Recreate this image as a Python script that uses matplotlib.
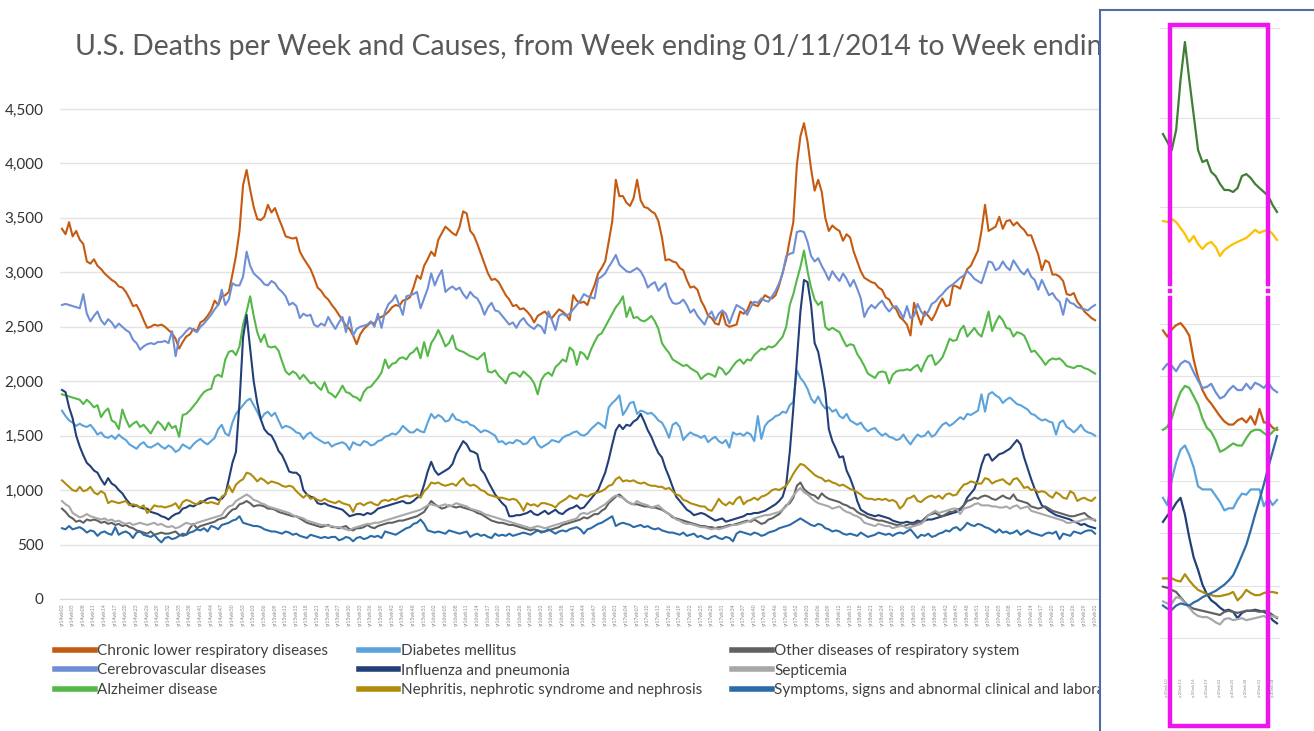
import matplotlib.pyplot as plt
import matplotlib.patches as mpatches
from matplotlib.lines import Line2D
import numpy as np

# ---------------------------------------------------------------
# weekly deaths per cause, yr14wk02 .. yr19wk32 (292 weeks)
# ---------------------------------------------------------------
chronic = [
    3400, 3350, 3460, 3330, 3380, 3300, 3260, 3100, 3080, 3120,
    3060, 3030, 2990, 2960, 2930, 2910, 2870, 2860, 2820, 2760,
    2690, 2700, 2640, 2560, 2490, 2500, 2520, 2510, 2520, 2500,
    2470, 2440, 2390, 2300, 2360, 2410, 2430, 2480, 2460, 2540,
    2560, 2600, 2650, 2740, 2700, 2780, 2790, 2820, 2980, 3150,
    3380, 3800, 3940, 3760, 3600, 3490, 3480, 3510, 3620, 3550,
    3590, 3500, 3420, 3330, 3320, 3310, 3320, 3190, 3130, 3080,
    3030, 2950, 2860, 2830, 2780, 2750, 2700, 2660, 2610, 2560,
    2510, 2480, 2420, 2340, 2430, 2480, 2510, 2540, 2530, 2580,
    2590, 2610, 2640, 2680, 2700, 2690, 2740, 2750, 2770, 2860,
    2970, 2940, 3060, 3120, 3190, 3150, 3300, 3360, 3420, 3390,
    3360, 3340, 3420, 3560, 3540, 3380, 3340, 3260, 3170, 3080,
    2990, 2930, 2940, 2910, 2850, 2790, 2750, 2690, 2700, 2660,
    2670, 2640, 2600, 2540, 2600, 2620, 2640, 2600, 2580, 2620,
    2660, 2640, 2610, 2560, 2790, 2740, 2720, 2730, 2700, 2800,
    2880, 2990, 3040, 3100, 3280, 3470, 3850, 3700, 3700, 3640,
    3610, 3680, 3850, 3660, 3600, 3590, 3560, 3540, 3470, 3320,
    3110, 3120, 3100, 3090, 3040, 3020, 2930, 2860, 2870, 2840,
    2740, 2680, 2600, 2580, 2530, 2520, 2640, 2520, 2500, 2510,
    2520, 2640, 2620, 2650, 2730, 2700, 2690, 2740, 2790, 2770,
    2760, 2790, 2880, 3000, 3120, 3300, 3460, 3990, 4250, 4370,
    4200, 3950, 3750, 3850, 3740, 3500, 3380, 3430, 3400, 3380,
    3290, 3350, 3320, 3190, 3100, 3010, 2950, 2930, 2910, 2900,
    2860, 2840, 2770, 2750, 2690, 2660, 2590, 2560, 2520, 2420,
    2720, 2610, 2520, 2640, 2600, 2560, 2620, 2700, 2760, 2690,
    2700, 2880, 2870, 2850, 2950, 3030, 3060, 3130, 3200, 3380,
    3620, 3380, 3400, 3420, 3510, 3400, 3470, 3480, 3430, 3460,
    3420, 3390, 3340, 3340, 3250, 3160, 3020, 3110, 3090, 2980,
    2980, 2960, 2920, 2800, 2790, 2810, 2730, 2690, 2640, 2610,
    2580, 2560,
]
cerebro = [
    2700, 2710, 2700, 2690, 2680, 2670, 2800, 2620, 2550, 2600,
    2640, 2560, 2520, 2570, 2540, 2490, 2530, 2500, 2470, 2450,
    2380, 2350, 2290, 2320, 2340, 2350, 2340, 2360, 2360, 2370,
    2350, 2460, 2230, 2390, 2420, 2460, 2490, 2470, 2450, 2500,
    2530, 2570, 2610, 2660, 2700, 2840, 2700, 2750, 2900, 2880,
    2880, 2960, 3190, 3060, 2990, 2960, 2930, 2890, 2880, 2920,
    2900, 2850, 2820, 2780, 2700, 2720, 2690, 2580, 2620, 2600,
    2610, 2520, 2500, 2530, 2510, 2590, 2530, 2480, 2540, 2590,
    2450, 2590, 2420, 2480, 2500, 2510, 2520, 2550, 2500, 2620,
    2490, 2640, 2710, 2740, 2790, 2700, 2610, 2780, 2790, 2800,
    2820, 2670, 2760, 2850, 2990, 2880, 2960, 3020, 2820, 2850,
    2870, 2840, 2860, 2800, 2760, 2820, 2780, 2760, 2700, 2610,
    2680, 2720, 2650, 2640, 2600, 2560, 2520, 2540, 2490, 2550,
    2580, 2530, 2500, 2480, 2520, 2500, 2440, 2640, 2560, 2470,
    2600, 2620, 2600, 2620, 2660, 2700, 2740, 2800, 2780, 2770,
    2760, 2940, 2960, 2990, 3050, 3100, 3160, 3070, 3040, 3010,
    3000, 3020, 3040, 3010, 2950, 2860, 2890, 2910, 2830, 2870,
    2900, 2780, 2720, 2710, 2720, 2750, 2700, 2630, 2660, 2600,
    2560, 2520, 2600, 2640, 2560, 2620, 2650, 2620, 2530, 2620,
    2700, 2680, 2660, 2610, 2680, 2730, 2720, 2760, 2740, 2730,
    2780, 2830, 2900, 2990, 3150, 3170, 3180, 3370, 3380, 3370,
    3280, 3150, 3100, 3130, 3060, 3000, 2930, 3010, 2960, 2920,
    2990, 2940, 2870, 2930, 2850, 2760, 2590, 2660, 2700, 2670,
    2710, 2740, 2680, 2640, 2680, 2690, 2640, 2580, 2690, 2580,
    2600, 2710, 2640, 2600, 2640, 2710, 2730, 2770, 2800, 2840,
    2870, 2890, 2920, 2950, 2970, 3010, 2980, 2940, 2920, 2900,
    3000, 3100, 3090, 3020, 3040, 3100, 3050, 3020, 3110, 3060,
    3010, 2980, 3030, 2960, 2930, 2840, 2930, 2860, 2790, 2810,
    2760, 2730, 2610, 2760, 2720, 2710, 2680, 2670, 2660, 2650,
    2680, 2700,
]
alzheimer = [
    1880, 1870, 1860, 1850, 1840, 1830, 1790, 1830, 1800, 1760,
    1780, 1670, 1720, 1750, 1640, 1620, 1560, 1740, 1650, 1580,
    1610, 1630, 1580, 1600, 1560, 1520, 1580, 1630, 1600, 1550,
    1620, 1570, 1590, 1490, 1690, 1700, 1730, 1770, 1810, 1860,
    1900, 1920, 1930, 2040, 2060, 2040, 2200, 2270, 2280, 2240,
    2320, 2520, 2640, 2780, 2600, 2450, 2360, 2430, 2320, 2310,
    2320, 2280, 2180, 2090, 2060, 2090, 2070, 2020, 2060, 2020,
    1980, 1990, 1950, 1920, 1990, 1900, 1880, 1850, 1900, 1960,
    1900, 1890, 1860, 1850, 1820, 1900, 1940, 1950, 1990, 2030,
    2080, 2200, 2120, 2160, 2170, 2210, 2220, 2200, 2250, 2270,
    2310, 2210, 2360, 2230, 2350, 2400, 2470, 2400, 2320, 2350,
    2420, 2300, 2280, 2270, 2250, 2230, 2220, 2200, 2230, 2260,
    2090, 2080, 2100, 2050, 2020, 1980, 2060, 2080, 2070, 2040,
    2090, 2060, 2030, 1980, 1880, 2010, 2060, 2080, 2050, 2130,
    2160, 2200, 2180, 2310, 2280, 2150, 2270, 2250, 2200, 2290,
    2360, 2420, 2440, 2500, 2560, 2620, 2680, 2720, 2780, 2590,
    2680, 2580, 2590, 2560, 2550, 2570, 2600, 2550, 2480, 2350,
    2300, 2260, 2200, 2180, 2160, 2140, 2150, 2120, 2100, 2080,
    2020, 2050, 2070, 2060, 2040, 2130, 2110, 2060, 2090, 2140,
    2180, 2200, 2160, 2200, 2190, 2240, 2270, 2300, 2290, 2320,
    2310, 2330, 2370, 2410, 2500, 2700, 2800, 2930, 3050, 3200,
    3010, 2860, 2750, 2700, 2730, 2500, 2470, 2490, 2470, 2450,
    2380, 2320, 2340, 2330, 2250, 2200, 2140, 2070, 2050, 2030,
    2080, 2090, 2080, 1980, 2060, 2090, 2100, 2100, 2110, 2100,
    2130, 2150, 2090, 2170, 2230, 2240, 2150, 2180, 2220, 2300,
    2390, 2370, 2380, 2470, 2510, 2410, 2450, 2490, 2440, 2410,
    2520, 2640, 2460, 2540, 2600, 2560, 2490, 2480, 2410, 2450,
    2440, 2420, 2350, 2270, 2280, 2240, 2200, 2150, 2190, 2210,
    2200, 2210, 2180, 2140, 2130, 2120, 2140, 2140, 2120, 2110,
    2090, 2070,
]
diabetes = [
    1730, 1680, 1640, 1620, 1590, 1610, 1590, 1580, 1600, 1560,
    1510, 1530, 1490, 1480, 1500, 1470, 1510, 1480, 1460, 1420,
    1400, 1380, 1420, 1440, 1400, 1390, 1410, 1430, 1400, 1380,
    1410, 1390, 1350, 1370, 1420, 1400, 1380, 1420, 1450, 1470,
    1440, 1420, 1450, 1480, 1560, 1600, 1520, 1500, 1620, 1700,
    1740, 1780, 1820, 1840, 1780, 1720, 1650, 1700, 1720, 1680,
    1710, 1640, 1570, 1590, 1580, 1560, 1530, 1520, 1470, 1510,
    1530, 1490, 1470, 1450, 1430, 1440, 1400, 1420, 1430, 1440,
    1420, 1370, 1440, 1420, 1410, 1450, 1440, 1410, 1420, 1450,
    1460, 1490, 1500, 1520, 1510, 1540, 1590, 1560, 1530, 1530,
    1560, 1540, 1530, 1620, 1700, 1660, 1690, 1670, 1630, 1640,
    1700, 1650, 1640, 1620, 1630, 1600, 1590, 1560, 1530, 1550,
    1540, 1520, 1500, 1440, 1450, 1420, 1440, 1430, 1460, 1450,
    1420, 1430, 1470, 1490, 1420, 1390, 1410, 1430, 1460, 1450,
    1440, 1480, 1500, 1510, 1530, 1540, 1510, 1500, 1520, 1560,
    1590, 1620, 1600, 1570, 1760, 1800, 1830, 1870, 1690, 1740,
    1800, 1810, 1700, 1730, 1720, 1700, 1710, 1680, 1640, 1620,
    1560, 1480, 1600, 1620, 1580, 1460, 1500, 1530, 1510, 1500,
    1480, 1500, 1440, 1470, 1490, 1450, 1430, 1460, 1390, 1530,
    1510, 1520, 1500, 1530, 1510, 1450, 1680, 1470, 1590, 1630,
    1650, 1680, 1690, 1720, 1710, 1780, 1810, 2100, 2030, 1990,
    1930, 1840, 1800, 1860, 1790, 1750, 1760, 1720, 1740, 1680,
    1660, 1700, 1640, 1620, 1600, 1620, 1570, 1540, 1560, 1570,
    1530, 1500, 1520, 1490, 1480, 1460, 1470, 1510, 1460, 1420,
    1470, 1510, 1490, 1500, 1540, 1490, 1510, 1560, 1600, 1620,
    1590, 1610, 1640, 1670, 1650, 1700, 1690, 1710, 1730, 1880,
    1720, 1880, 1900, 1870, 1850, 1800, 1830, 1850, 1820, 1790,
    1780, 1760, 1740, 1700, 1690, 1660, 1640, 1650, 1630, 1620,
    1510, 1620, 1640, 1580, 1560, 1530, 1560, 1600, 1550, 1530,
    1520, 1500,
]
influenza = [
    1920, 1900, 1760, 1660, 1500, 1400, 1320, 1250, 1220, 1180,
    1160, 1100, 1050, 1110, 1060, 1040, 1000, 970, 920, 880,
    850, 860, 840, 830, 830, 800, 790, 780, 760, 750,
    730, 760, 780, 790, 830, 840, 860, 850, 870, 880,
    900, 920, 930, 930, 910, 920, 960, 1100, 1250, 1350,
    1800, 2400, 2610, 2300, 2000, 1800, 1650, 1560, 1520, 1500,
    1440, 1360, 1320, 1250, 1170, 1160, 1160, 1130, 1000, 960,
    940, 930, 880, 870, 880, 860, 850, 840, 830, 820,
    790, 760, 770, 780, 780, 770, 790, 780, 800, 830,
    840, 850, 860, 870, 880, 890, 900, 880, 880, 900,
    930, 950, 1050, 1170, 1260, 1180, 1140, 1160, 1180, 1200,
    1240, 1330, 1390, 1450, 1420, 1360, 1350, 1330, 1190, 1150,
    1080, 1020, 960, 920, 880, 850, 760, 760, 770, 770,
    780, 790, 810, 780, 770, 790, 810, 780, 800, 820,
    790, 780, 810, 830, 840, 860, 830, 840, 880, 920,
    960, 1000, 1080, 1160, 1280, 1420, 1550, 1600, 1560, 1600,
    1590, 1630, 1650, 1700, 1630, 1550, 1490, 1410, 1340, 1300,
    1200, 1120, 1030, 940, 900, 860, 820, 800, 770, 780,
    790, 780, 760, 740, 720, 730, 740, 710, 720, 730,
    740, 750, 760, 780, 780, 790, 790, 800, 810, 830,
    850, 870, 900, 940, 1050, 1350, 1750, 2200, 2640, 2930,
    2910, 2700, 2350, 2270, 2100, 1900, 1560, 1450, 1380, 1300,
    1310, 1180, 1110, 1020, 900, 820, 800, 780, 770, 760,
    770, 760, 750, 740, 720, 710, 700, 700, 710, 700,
    700, 720, 710, 720, 730, 730, 740, 750, 760, 770,
    780, 790, 800, 820, 860, 930, 970, 1010, 1100, 1230,
    1320, 1330, 1270, 1300, 1330, 1340, 1360, 1380, 1420, 1460,
    1420, 1300, 1200, 1100, 1010, 930, 860, 840, 810, 790,
    770, 760, 750, 740, 730, 710, 700, 680, 690, 670,
    660, 650,
]
nephritis = [
    1090, 1060, 1030, 1000, 990, 1030, 990, 1000, 1030, 980,
    960, 990, 970, 880, 900, 890, 880, 890, 900, 860,
    870, 860, 840, 860, 790, 820, 860, 850, 850, 840,
    850, 860, 880, 830, 890, 910, 900, 880, 870, 900,
    890, 880, 890, 880, 870, 940, 960, 1040, 980, 1050,
    1080, 1100, 1160, 1150, 1120, 1080, 1110, 1090, 1060, 1080,
    1070, 1060, 1040, 1030, 1040, 1030, 990, 960, 930, 960,
    920, 930, 910, 900, 920, 900, 890, 880, 900, 880,
    870, 860, 800, 870, 880, 860, 880, 890, 870, 860,
    900, 910, 900, 920, 910, 930, 940, 950, 940, 950,
    960, 930, 990, 1020, 1070, 1060, 1070, 1050, 1040, 1050,
    1060, 1040, 1080, 1110, 1060, 1040, 1050, 1030, 1000, 990,
    960, 950, 940, 930, 930, 920, 910, 920, 910, 870,
    810, 880, 860, 870, 850, 880, 880, 870, 860, 840,
    880, 900, 920, 950, 930, 920, 960, 950, 940, 960,
    970, 980, 990, 1010, 1040, 1050, 1100, 1120, 1080, 1090,
    1080, 1090, 1070, 1060, 1070, 1050, 1040, 1040, 1030, 1030,
    1010, 1020, 990, 960, 950, 910, 900, 880, 870, 860,
    850, 850, 820, 810, 860, 920, 880, 860, 890, 870,
    920, 940, 870, 900, 910, 930, 910, 940, 950, 970,
    1000, 1010, 1000, 1020, 1040, 1090, 1150, 1200, 1240, 1230,
    1200, 1170, 1140, 1120, 1110, 1080, 1090, 1070, 1060, 1040,
    1050, 1030, 1010, 1000, 980, 960, 930, 920, 920, 910,
    920, 910, 920, 900, 910, 890, 830, 860, 920, 930,
    950, 900, 890, 920, 940, 950, 930, 950, 920, 960,
    970, 950, 960, 1010, 1050, 1060, 1080, 1070, 1060, 1060,
    1110, 1100, 1060, 1080, 1090, 1100, 1070, 1050, 1100, 1110,
    1070, 1020, 1030, 1000, 1010, 980, 990, 980, 950, 930,
    980, 960, 930, 920, 990, 970, 900, 920, 930, 910,
    900, 930,
]
other_resp = [
    830, 800, 760, 740, 710, 720, 700, 730, 720, 730,
    720, 700, 710, 690, 700, 680, 690, 670, 680, 660,
    650, 630, 620, 610, 600, 620, 590, 600, 610, 600,
    600, 610, 620, 590, 580, 590, 650, 690, 650, 670,
    680, 690, 700, 710, 730, 740, 750, 790, 820, 830,
    870, 880, 900, 880, 850, 860, 860, 850, 830, 830,
    820, 800, 790, 780, 770, 760, 760, 740, 720, 700,
    690, 680, 670, 660, 670, 680, 660, 660, 650, 660,
    670, 640, 630, 650, 650, 660, 680, 660, 650, 670,
    680, 690, 700, 700, 710, 720, 720, 730, 740, 750,
    760, 780, 800, 850, 900, 870, 850, 830, 840, 860,
    850, 840, 850, 840, 830, 820, 810, 790, 780, 760,
    740, 720, 710, 700, 700, 690, 680, 680, 670, 660,
    650, 640, 630, 640, 630, 620, 620, 630, 640, 650,
    660, 680, 690, 700, 710, 720, 730, 750, 740, 760,
    780, 780, 810, 830, 880, 910, 940, 960, 930, 900,
    880, 870, 870, 860, 850, 850, 840, 840, 830, 820,
    800, 780, 750, 740, 730, 720, 710, 700, 690, 680,
    670, 670, 660, 660, 650, 660, 660, 670, 680, 680,
    690, 700, 710, 720, 710, 730, 710, 690, 700, 730,
    740, 760, 780, 820, 860, 880, 930, 1040, 1070, 1010,
    980, 960, 950, 920, 970, 940, 920, 910, 900, 890,
    870, 860, 840, 830, 800, 780, 770, 750, 740, 730,
    720, 720, 710, 700, 690, 680, 680, 670, 680, 690,
    680, 700, 710, 740, 770, 780, 790, 770, 760, 780,
    800, 800, 820, 830, 860, 900, 910, 930, 920, 940,
    950, 940, 920, 910, 930, 950, 930, 920, 960, 910,
    900, 890, 880, 850, 840, 830, 840, 850, 830, 810,
    800, 790, 780, 770, 760, 760, 770, 780, 790, 760,
    740, 720,
]
septicemia = [
    900, 870, 850, 790, 770, 750, 760, 780, 760, 750,
    740, 730, 740, 720, 730, 710, 720, 700, 690, 700,
    680, 690, 700, 690, 680, 690, 700, 680, 690, 670,
    660, 670, 650, 660, 680, 700, 690, 680, 700, 710,
    720, 730, 740, 750, 760, 770, 820, 850, 860, 900,
    920, 940, 960, 940, 910, 900, 880, 870, 850, 840,
    830, 820, 810, 800, 790, 770, 760, 750, 740, 720,
    710, 700, 690, 680, 680, 670, 670, 660, 660, 650,
    640, 630, 650, 660, 670, 680, 690, 690, 700, 700,
    710, 720, 730, 740, 750, 760, 770, 780, 790, 800,
    810, 820, 840, 860, 870, 860, 850, 860, 870, 850,
    860, 880, 870, 860, 850, 830, 820, 810, 800, 780,
    770, 760, 750, 740, 730, 720, 710, 700, 690, 680,
    670, 660, 650, 660, 670, 660, 650, 660, 670, 680,
    690, 700, 710, 720, 730, 740, 780, 790, 780, 800,
    810, 830, 850, 870, 900, 930, 950, 940, 930, 900,
    880, 870, 900, 880, 870, 860, 840, 850, 860, 830,
    800, 780, 760, 730, 720, 700, 690, 690, 680, 670,
    660, 660, 650, 640, 650, 640, 650, 660, 670, 680,
    680, 690, 700, 710, 720, 740, 750, 760, 770, 770,
    780, 790, 800, 820, 850, 900, 950, 990, 1020, 980,
    960, 930, 900, 880, 870, 860, 850, 830, 840, 850,
    820, 800, 790, 770, 760, 740, 700, 690, 680, 670,
    690, 680, 670, 670, 650, 660, 670, 670, 650, 660,
    670, 680, 690, 720, 770, 790, 810, 790, 800, 810,
    820, 830, 830, 780, 830, 840, 850, 870, 880, 860,
    860, 860, 850, 850, 840, 840, 850, 830, 850, 860,
    830, 840, 850, 810, 800, 790, 780, 770, 760, 750,
    740, 730, 720, 700, 700, 710, 710, 720, 730, 740,
    730, 730,
]
symptoms = [
    650, 640, 670, 640, 650, 660, 640, 610, 630, 620,
    580, 610, 620, 600, 590, 660, 590, 610, 620, 600,
    560, 610, 620, 590, 580, 570, 590, 550, 520, 560,
    570, 550, 560, 580, 600, 590, 610, 620, 640, 630,
    650, 620, 670, 660, 640, 680, 690, 700, 720, 730,
    760, 700, 690, 680, 670, 670, 660, 640, 630, 620,
    620, 610, 600, 620, 610, 590, 600, 580, 570, 560,
    590, 580, 570, 560, 570, 560, 570, 570, 540, 550,
    570, 560, 530, 560, 570, 550, 560, 580, 570, 580,
    560, 620, 610, 600, 590, 610, 630, 650, 660, 690,
    700, 730, 690, 630, 620, 610, 620, 610, 600, 630,
    620, 610, 600, 610, 620, 570, 590, 600, 580, 590,
    570, 560, 600, 580, 590, 580, 600, 580, 590, 600,
    610, 600, 590, 610, 630, 610, 620, 640, 620, 600,
    620, 630, 620, 640, 650, 660, 640, 600, 640, 650,
    670, 690, 700, 720, 740, 760, 670, 690, 700, 690,
    680, 660, 670, 680, 660, 670, 650, 640, 650, 630,
    620, 610, 610, 600, 590, 610, 580, 590, 600, 570,
    580, 560, 550, 570, 580, 560, 550, 570, 560, 530,
    600, 620, 610, 600, 590, 610, 600, 580, 590, 610,
    620, 630, 650, 660, 670, 680, 700, 720, 740, 720,
    700, 680, 670, 690, 680, 650, 640, 620, 630, 620,
    600, 590, 600, 590, 580, 610, 590, 570, 580, 590,
    610, 600, 590, 600, 580, 600, 610, 600, 620, 640,
    600, 560, 590, 580, 600, 570, 580, 600, 610, 630,
    620, 650, 660, 630, 660, 700, 680, 670, 690, 680,
    660, 650, 630, 610, 640, 610, 620, 600, 610, 630,
    590, 610, 630, 610, 600, 590, 580, 600, 610, 600,
    620, 550, 600, 590, 580, 620, 610, 600, 620, 630,
    630, 600,
]

# week labels yr14wk02 .. yr19wk32
weeks = []
for yr, w0, w1 in [(14, 2, 53), (15, 1, 52), (16, 1, 52), (17, 1, 52), (18, 1, 52), (19, 1, 32)]:
    for w in range(w0, w1 + 1):
        weeks.append(f"yr{yr}wk{w:02d}")

# ---------------------------------------------------------------
# 2020 snippet on the right (yr20wk09 .. yr20wk35)
# ---------------------------------------------------------------
weeks20 = [f"yr20wk{w:02d}" for w in range(9, 36)]
ins_all = [59080, 58630, 58180, 59300, 62100, 64220, 62100, 60140, 58180, 57510,
           57630, 56960, 56730, 56290, 55950, 55950, 55840, 56060, 56730, 56840,
           56620, 56290, 56060, 55840, 55620, 55110, 54720]
ins_expected = [54220, 54160, 54330, 54160, 53830, 53490, 53050, 53380, 52930, 52650,
                52930, 53050, 52770, 52260, 52600, 52770, 52930, 53050, 53160, 53270,
                53490, 53720, 53550, 53660, 53720, 53490, 53160]
ins_chronic = [2940, 2880, 2950, 2990, 3010, 2960, 2890, 2660, 2490, 2370,
               2290, 2240, 2180, 2120, 2070, 2040, 2040, 2080, 2100, 2060,
               2120, 2040, 2190, 2060, 2060, 2010, 1990]
ins_cerebro = [2570, 2620, 2600, 2550, 2620, 2650, 2630, 2540, 2460, 2390,
               2400, 2430, 2350, 2290, 2310, 2370, 2410, 2370, 2370, 2430,
               2380, 2440, 2420, 2390, 2440, 2380, 2350]
ins_alzheimer = [1990, 2020, 2100, 2240, 2350, 2410, 2390, 2310, 2230, 2100,
                 2010, 1970, 1890, 1780, 1800, 1830, 1860, 1840, 1840, 1910,
                 1970, 1990, 1990, 1960, 1930, 1970, 2010]
ins_diabetes = [1340, 1270, 1510, 1680, 1800, 1840, 1750, 1630, 1450, 1420,
                1420, 1420, 1360, 1300, 1220, 1240, 1240, 1320, 1380, 1370,
                1420, 1420, 1420, 1260, 1340, 1270, 1320]
ins_influenza = [1110, 1170, 1220, 1290, 1340, 1180, 960, 770, 650, 510,
                 420, 360, 330, 290, 260, 270, 250, 190, 240, 260,
                 260, 270, 260, 250, 230, 170, 140]
ins_nephritis = [570, 570, 570, 550, 540, 610, 550, 500, 460, 440,
                 420, 410, 400, 400, 410, 420, 440, 360, 400, 460,
                 430, 410, 410, 430, 440, 440, 430]
ins_other = [490, 480, 460, 440, 390, 340, 300, 280, 270, 260,
             250, 240, 230, 220, 250, 260, 250, 240, 250, 260,
             260, 260, 250, 260, 250, 220, 190]
ins_septicemia = [350, 330, 330, 390, 380, 330, 290, 240, 210, 200,
                  200, 180, 150, 130, 180, 190, 170, 180, 190, 170,
                  180, 190, 200, 210, 190, 210, 200]
ins_symptoms = [310, 280, 270, 310, 330, 320, 310, 340, 360, 390,
                410, 430, 450, 480, 510, 550, 600, 690, 790, 890,
                1030, 1180, 1320, 1470, 1630, 1780, 1930]

# the last legend entry is cut off by the pasted panel in the original
names = [
    "Chronic lower respiratory diseases", "Cerebrovascular diseases", "Alzheimer disease",
    "Diabetes mellitus", "Influenza and pneumonia", "Nephritis, nephrotic syndrome and nephrosis",
    "Other diseases of respiratory system", "Septicemia",
    "Symptoms, signs and abnormal clinical and laboratory",
]
colors = ["#C55A11", "#6E8FD6", "#55B848", "#5BA3DC", "#223F78",
          "#B08C0C", "#616161", "#A8A8A8", "#2B6CA8"]
main_data = [chronic, cerebro, alzheimer, diabetes, influenza,
             nephritis, other_resp, septicemia, symptoms]
ins_data = [ins_chronic, ins_cerebro, ins_alzheimer, ins_diabetes, ins_influenza,
            ins_nephritis, ins_other, ins_septicemia, ins_symptoms]

W, H = 1314, 731


def fx(x):
    return x / W


def fy(y):
    return 1 - y / H


plt.rcParams['font.family'] = ['Lato', 'DejaVu Sans']
fig = plt.figure(figsize=(13.14, 7.31), dpi=100)

# ---------------------------------------------------------------
# main chart
# ---------------------------------------------------------------
ax = fig.add_axes([fx(60), fy(599), (1110 - 60) / W, (599 - 99.2) / H])
x = np.arange(len(chronic))
for name, vals, col in zip(names, main_data, colors):
    ax.plot(x, vals, color=col, lw=1.5, label=name)
ax.set_xlim(-0.56, 295.2)
ax.set_ylim(0, 4590)
yt = list(range(0, 4501, 500))
ax.set_yticks(yt)
ax.set_yticklabels([f"{v:,}" for v in yt], fontsize=11, color="#333333")
ax.set_xticks(x[::3])
ax.set_xticklabels(weeks[::3], rotation=90, fontsize=3.6, color="#8C8C8C")
ax.tick_params(axis="y", length=0, pad=12)
ax.tick_params(axis="x", length=0, pad=3)
ax.grid(axis="y", color="#E3E3E3", lw=1)
ax.set_axisbelow(True)
for s in ["top", "right", "left"]:
    ax.spines[s].set_visible(False)
ax.spines["bottom"].set_color("#D9D9D9")

ax.text(fx(75), fy(47), "U.S. Deaths per Week and Causes, from Week ending 01/11/2014 to Week ending",
        transform=fig.transFigure, fontsize=20.4, color="#595959", va="center", ha="left")

leg = ax.legend(ncol=3, loc="upper left", bbox_to_anchor=(fx(55), fy(644)),
                bbox_transform=fig.transFigure, frameon=False, fontsize=11,
                handlelength=2.6, handletextpad=0.15, columnspacing=2.0,
                labelspacing=0.36, borderpad=0, borderaxespad=0)
for ln in leg.get_lines():
    ln.set_linewidth(4)
for t in leg.get_texts():
    t.set_color("#404040")

# ---------------------------------------------------------------
# pasted 2020 panel on the right
# ---------------------------------------------------------------
pan = fig.add_axes([fx(1100), 0, 0.2, fy(10)], zorder=5)
pan.set_facecolor("white")
pan.set_xticks([])
pan.set_yticks([])
pan.spines["right"].set_visible(False)
pan.spines["bottom"].set_visible(False)
for s in ["left", "top"]:
    pan.spines[s].set_color("#4E6EA8")
    pan.spines[s].set_linewidth(1.5)

k = np.arange(len(ins_all))
tax = fig.add_axes([fx(1160), fy(285), 120 / W, 270 / H], zorder=6)
tax.plot(k, ins_all, color="#3F7F35", lw=1.6)
tax.plot(k, ins_expected, color="#FFC000", lw=1.6)
tax.set_xlim(-0.68, 26.68)
tax.set_ylim(50640, 65730)
tax.set_yticks([55000, 60000, 65000])

bax = fig.add_axes([fx(1160), fy(672), 120 / W, (672 - 298) / H], zorder=6)
for vals, col in zip(ins_data, colors):
    bax.plot(k, vals, color=col, lw=1.6)
bax.set_xlim(-0.68, 26.68)
bax.set_ylim(-325, 3250)
bax.set_yticks(range(0, 3001, 500))
bax.set_xticks(k[1::3])
bax.set_xticklabels(weeks20[1::3], rotation=90, fontsize=3.2, color="#8C8C8C")

for a in (tax, bax):
    a.patch.set_alpha(0)
    a.grid(axis="y", color="#E3E3E3", lw=0.8)
    a.set_axisbelow(True)
    a.tick_params(length=0, labelleft=False)
    for s in a.spines.values():
        s.set_visible(False)
tax.set_xticks([])
bax.tick_params(axis="x", pad=4)

rect = mpatches.Rectangle((fx(1170), fy(726)), (1268 - 1170) / W, (726 - 25) / H,
                          transform=fig.transFigure, fill=False, ec="#EE14EE", lw=3.2, zorder=10)
fig.add_artist(rect)
for xc in (1170, 1268):
    for yy in (287, 294):
        fig.add_artist(Line2D([fx(xc - 4), fx(xc + 4)], [fy(yy), fy(yy)], color="white",
                              lw=1.8, transform=fig.transFigure, zorder=11))

fig.savefig("out.png", dpi=100)
